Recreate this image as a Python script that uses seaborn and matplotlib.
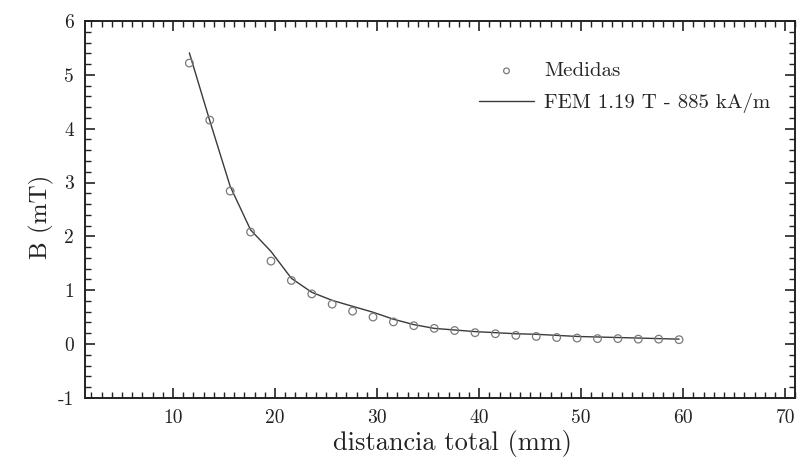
import matplotlib
matplotlib.use("Agg")
import matplotlib.pyplot as plt
import seaborn as sns
import pandas as pd
from matplotlib.ticker import MultipleLocator

dist_mm = [11.6, 13.6, 15.6, 17.6, 19.6, 21.6, 23.6, 25.6, 27.6, 29.6,
           31.6, 33.6, 35.6, 37.6, 39.6, 41.6, 43.6, 45.6, 47.6, 49.6,
           51.6, 53.6, 55.6, 57.6, 59.6]
medidas = [5.22, 4.16, 2.84, 2.08, 1.54, 1.18, 0.93, 0.74, 0.61, 0.50,
           0.41, 0.34, 0.29, 0.25, 0.21, 0.19, 0.16, 0.14, 0.12, 0.11,
           0.10, 0.10, 0.09, 0.09, 0.08]
fem = [5.41, 4.15, 2.93, 2.12, 1.72, 1.22, 0.96, 0.81, 0.70, 0.59,
       0.46, 0.36, 0.29, 0.26, 0.23, 0.21, 0.19, 0.18, 0.16, 0.14,
       0.13, 0.12, 0.11, 0.10, 0.09]
label_med = "Medidas"
label_fem = "FEM 1.19 T - 885 kA/m"
x_ticks = [10, 20, 30, 40, 50, 60, 70]
y_ticks = [-1, 0, 1, 2, 3, 4, 5, 6]

df = pd.DataFrame({"x": dist_mm, "med": medidas, "fem": fem})

sns.set_theme(style="ticks")
plt.rcParams["font.family"] = ["cmr10", "DejaVu Serif"]
plt.rcParams["axes.unicode_minus"] = False
plt.rcParams["axes.formatter.use_mathtext"] = True

fig = plt.figure(figsize=(7.97, 4.68), dpi=100)
ax = fig.add_axes([0.107, 0.15, 0.891, 0.805])

sns.lineplot(data=df, x="x", y="fem", ax=ax, color="#3a3a3a", linewidth=1.0,
             label=label_fem, legend=False)
sns.scatterplot(data=df, x="x", y="med", ax=ax, marker="o", s=30,
                facecolor="none", edgecolor="#7a7a7a", linewidth=0.9,
                label=label_med, legend=False, zorder=3)

ax.set_xlim(1.4, 71.0)
ax.set_ylim(-1, 6)
ax.set_xticks(x_ticks)
ax.set_yticks(y_ticks)
ax.set_xticklabels([str(v) for v in x_ticks])
ax.set_yticklabels([str(v) for v in y_ticks])
ax.xaxis.set_minor_locator(MultipleLocator(1))
ax.yaxis.set_minor_locator(MultipleLocator(0.2))
ax.tick_params(which="both", direction="in", top=True, right=True,
               colors="#222222", labelcolor="#222222")
ax.tick_params(which="major", length=7, width=1.2, labelsize=14, pad=8)
ax.tick_params(which="minor", length=4, width=1.0)
for s in ax.spines.values():
    s.set_linewidth(1.4)
    s.set_color("#222222")

ax.set_xlabel("distancia total (mm)", fontsize=19, color="#222222")
ax.set_ylabel("B (mT)", fontsize=18, color="#222222")
ax.xaxis.set_label_coords(0.517, -0.085, transform=ax.transAxes)
ax.xaxis.label.set_va("top")
ax.yaxis.set_label_coords(-0.062, 0.48, transform=ax.transAxes)
ax.yaxis.label.set_va("center")

h, l = ax.get_legend_handles_labels()
order = [l.index(label_med), l.index(label_fem)]
ax.legend([h[i] for i in order], [l[i] for i in order], loc="upper left",
          bbox_to_anchor=(0.555, 0.892), frameon=False, fontsize=15,
          handlelength=2.6, handletextpad=0.5, labelspacing=0.6,
          borderpad=0, borderaxespad=0, markerscale=0.75)

fig.savefig("out.png", dpi=100)
